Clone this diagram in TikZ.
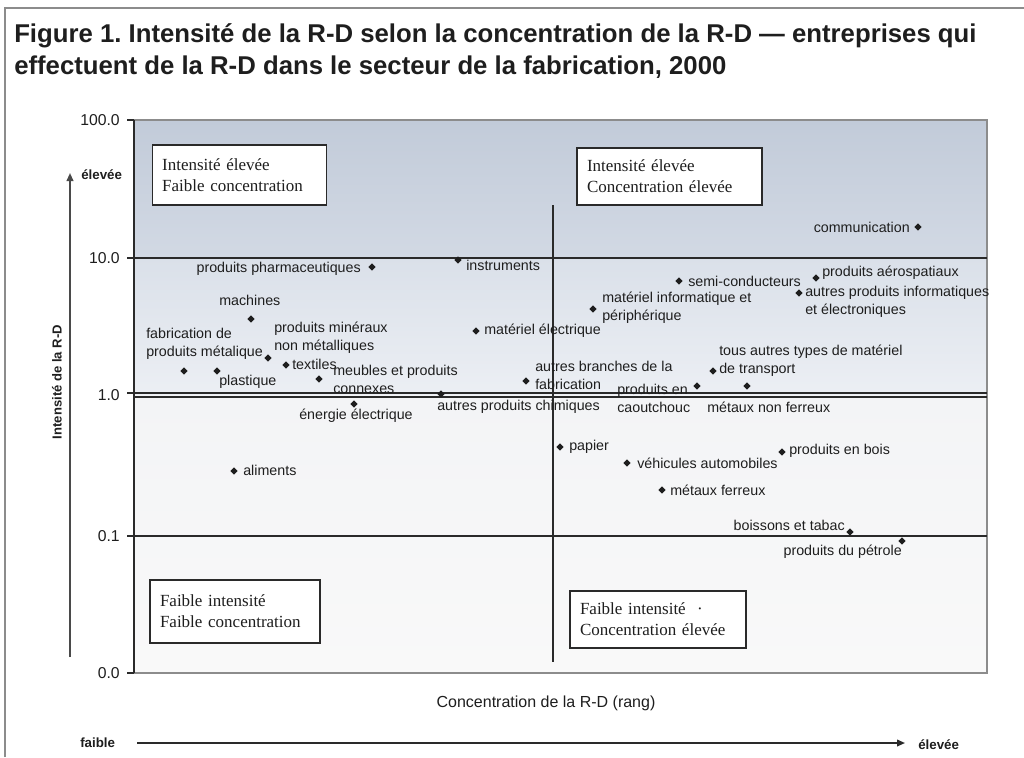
\documentclass[tikz,border=0pt]{standalone}
\usepackage{fontspec}
\setmainfont{Liberation Serif}
\setsansfont{Liberation Sans}
\usetikzlibrary{shapes.geometric,arrows.meta}
\frenchspacing

\definecolor{ink}{HTML}{1E1E1E}
\definecolor{rulec}{HTML}{2A2A2A}
\definecolor{framec}{HTML}{8C8C8C}
\definecolor{axisc}{HTML}{4A4A4A}
\definecolor{bandTopA}{RGB}{194,203,217}
\definecolor{bandTopB}{RGB}{210,217,228}
\definecolor{bandMidA}{RGB}{218,224,233}
\definecolor{bandMidB}{RGB}{236,239,244}
\definecolor{bandLowA}{RGB}{243,244,246}
\definecolor{bandLowB}{RGB}{249,249,249}

\newcommand\titlefont{\sffamily\bfseries\fontsize{19.3}{24}\selectfont}
\newcommand\lblfont{\sffamily\fontsize{10.7}{13.5}\selectfont}
\newcommand\tickfont{\sffamily\fontsize{11.8}{13}\selectfont}
\newcommand\quadfont{\rmfamily\fontsize{12.75}{15.75}\selectfont}
\newcommand\axisfont{\sffamily\fontsize{12}{14}\selectfont}
\newcommand\dirfont{\sffamily\bfseries\fontsize{10}{12}\selectfont}

\tikzset{
  datapt/.style={diamond, aspect=1, fill=ink, inner sep=0pt, minimum size=5.5pt},
  lab/.style={font=\lblfont, text=ink, inner sep=0pt, align=left},
  ticklab/.style={font=\tickfont, text=ink, inner sep=0pt, anchor=east},
  quadbox/.style={draw=rulec, line width=0.9pt, fill=white, font=\quadfont, text=ink,
    align=left, inner xsep=7.5pt, inner ysep=0pt},
  gridline/.style={draw=rulec, line width=1.1pt},
  dirlab/.style={font=\dirfont, text=ink, inner sep=0pt}
}

\begin{document}
\begin{tikzpicture}[x=0.75pt,y=-0.75pt]
\useasboundingbox (0,0) rectangle (1024,757);
\fill[white] (0,0) rectangle (1024,757);

% page frame
\draw[framec, line width=1.2pt] (5,757) -- (5,8) -- (1024,8);

% title
\node[font=\titlefont, text=ink, anchor=base west, inner sep=0pt] (title1) at (14,42)
  {Figure 1. Intensité de la R-D selon la concentration de la R-D — entreprises qui};
\node[font=\titlefont, text=ink, anchor=base west, inner sep=0pt] (title2) at (14,74)
  {effectuent de la R-D dans le secteur de la fabrication, 2000};

% plot background bands
\shade[top color=bandTopA, bottom color=bandTopB] (134,120) rectangle (987,258);
\shade[top color=bandMidA, bottom color=bandMidB] (134,258) rectangle (987,395);
\shade[top color=bandLowA, bottom color=bandLowB] (134,395) rectangle (987,673);
\draw[framec, line width=0.9pt] (134,120) -- (987,120) -- (987,673) -- (134,673);

% horizontal reference lines (log scale)
\draw[gridline] (127,258) -- (987,258);
\draw[gridline] (127,393) -- (987,393);
\draw[gridline, line width=0.9pt] (134,397) -- (987,397);
\draw[gridline] (127,536) -- (987,536);
\draw[rulec, line width=0.9pt] (127,120) -- (134,120);
\draw[rulec, line width=0.9pt] (127,673) -- (134,673);
% vertical axis and quadrant divider
\draw[rulec, line width=1.2pt] (134,120) -- (134,673);
\draw[rulec, line width=1.1pt] (553,205) -- (553,662);

% tick labels
\node[ticklab] (t100) at (120,120) {100.0};
\node[ticklab] (t10)  at (120,258) {10.0};
\node[ticklab] (t1)   at (120,395) {1.0};
\node[ticklab] (t01)  at (120,536) {0.1};
\node[ticklab] (t00)  at (120,673) {0.0};

% vertical axis title and direction arrow
\coordinate (ybot) at (70,657);
\coordinate (ytop) at (70,173);
\draw[axisc, line width=1.3pt, -{Triangle[length=6pt,width=5pt]}] (ybot) -- (ytop);
\node[dirlab, anchor=west] (yhigh) at (81,175) {élevée};
\node[font=\sffamily\bfseries\fontsize{9.8}{12}\selectfont, text=ink, rotate=90, inner sep=0pt] (ytitle) at (57,382) {Intensité de la R-D};

% horizontal axis title and direction arrow
\node[font=\axisfont, text=ink, inner sep=0pt] (xtitle) at (546,703) {Concentration de la R-D (rang)};
\coordinate (xleft) at (137,743);
\coordinate (xright) at (905,743);
\draw[rulec, line width=1.2pt, -{Triangle[length=6pt,width=5pt]}] (xleft) -- (xright);
\node[dirlab, anchor=west] (xlow) at (80,743) {faible};
\node[dirlab, anchor=west] (xhigh) at (918,745) {élevée};

% quadrant captions
\node[quadbox, text width=116pt, minimum height=45pt] (qTL) at (239.5,175)
  {Intensité élevée\\Faible concentration};
\node[quadbox, text width=123.75pt, minimum height=42.75pt] (qTR) at (669.5,176.5)
  {Intensité élevée\\Concentration élevée};
\node[quadbox, text width=112.5pt, minimum height=47.25pt] (qBL) at (235,611.5)
  {Faible intensité\\Faible concentration};
\node[quadbox, text width=117pt, minimum height=42.75pt] (qBR) at (658,619.5)
  {Faible intensité \ ·\\Concentration élevée};

% industries
\node[datapt] (p1) at (372,267) {};
\node[lab, anchor=east] (l1) at (361,269) {produits pharmaceutiques};
\node[datapt] (p2) at (458,260) {};
\node[lab, anchor=west] (l2) at (466,265) {instruments};
\node[datapt] (p3) at (251,319) {};
\node[lab, anchor=west] (l3) at (219,300) {machines};
\node[datapt] (p4) at (184,371) {};
\node[lab, anchor=west] (l4) at (146,344) {fabrication de\\produits métalique};
\node[datapt] (p5) at (217,371) {};
\node[lab, anchor=west] (l5) at (219,382) {plastique};
\node[datapt] (p6) at (268,358) {};
\node[lab, anchor=west] (l6) at (274,338) {produits minéraux\\non métalliques};
\node[datapt] (p7) at (286,365) {};
\node[lab, anchor=west] (l7) at (292,364) {textiles};
\node[datapt] (p8) at (319,379) {};
\node[lab, anchor=west] (l8) at (333,379) {meubles et produits\\connexes};
\node[datapt] (p9) at (354,404) {};
\node[lab, anchor=west] (l9) at (299,416) {énergie électrique};
\node[datapt] (p10) at (441,394) {};
\node[lab, anchor=west] (l10) at (437,407) {autres produits chimiques};
\node[datapt] (p11) at (476,331) {};
\node[lab, anchor=west] (l11) at (484,331) {matériel électrique};
\node[datapt] (p12) at (918,227) {};
\node[lab, anchor=east] (l12) at (910,227) {communication};
\node[datapt] (p13) at (679,281) {};
\node[lab, anchor=west] (l13) at (688,281) {semi-conducteurs};
\node[datapt] (p14) at (816,278) {};
\node[lab, anchor=west] (l14) at (822,273) {produits aérospatiaux};
\node[datapt] (p15) at (799,293) {};
\node[lab, anchor=west] (l15) at (805,302) {autres produits informatiques\\et électroniques};
\node[datapt] (p16) at (593,309) {};
\node[lab, anchor=west] (l16) at (602,308) {matériel informatique et\\périphérique};
\node[datapt] (p17) at (526,381) {};
\node[lab, anchor=west] (l17) at (535,375) {autres branches de la\\fabrication};
\node[datapt] (p18) at (697,386) {};
\node[lab, anchor=west] (l18) at (617,398) {produits en\\caoutchouc};
\node[datapt] (p19) at (713,371) {};
\node[lab, anchor=west] (l19) at (719,361) {tous autres types de matériel\\de transport};
\node[datapt] (p20) at (747,386) {};
\node[lab, anchor=west] (l20) at (707,407) {métaux non ferreux};
\node[datapt] (p21) at (560,447) {};
\node[lab, anchor=west] (l21) at (569,447) {papier};
\node[datapt] (p22) at (627,463) {};
\node[lab, anchor=west] (l22) at (637,463) {véhicules automobiles};
\node[datapt] (p23) at (782,452) {};
\node[lab, anchor=west] (l23) at (789,451) {produits en bois};
\node[datapt] (p24) at (662,490) {};
\node[lab, anchor=west] (l24) at (670,490) {métaux ferreux};
\node[datapt] (p25) at (850,532) {};
\node[lab, anchor=east] (l25) at (845,525) {boissons et tabac};
\node[datapt] (p26) at (902,541) {};
\node[lab, anchor=east] (l26) at (902,552) {produits du pétrole};
\node[datapt] (p27) at (234,471) {};
\node[lab, anchor=west] (l27) at (243,470) {aliments};
\end{tikzpicture}
\end{document}
